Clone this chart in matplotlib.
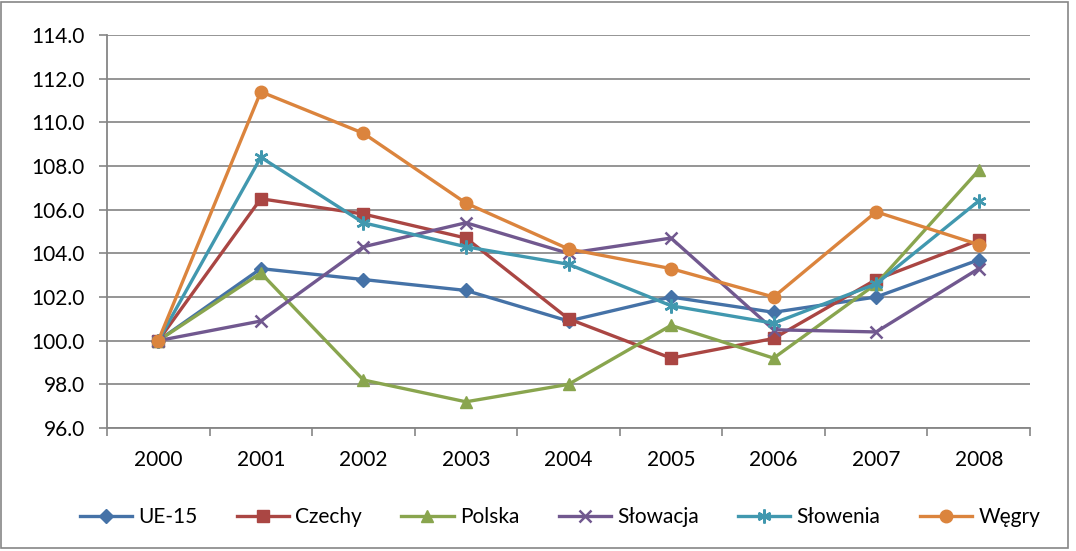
import matplotlib
matplotlib.use("Agg")
import matplotlib.pyplot as plt
from matplotlib.patches import Rectangle

years = ["2000", "2001", "2002", "2003", "2004", "2005", "2006", "2007", "2008"]
ue15 = [100.0, 103.3, 102.8, 102.3, 100.9, 102.0, 101.3, 102.0, 103.7]
czechy = [100.0, 106.5, 105.8, 104.7, 101.0, 99.2, 100.1, 102.8, 104.6]
polska = [100.0, 103.1, 98.2, 97.2, 98.0, 100.7, 99.2, 102.6, 107.8]
slowacja = [100.0, 100.9, 104.3, 105.4, 104.0, 104.7, 100.5, 100.4, 103.3]
slowenia = [100.0, 108.4, 105.4, 104.3, 103.5, 101.6, 100.8, 102.6, 106.4]
wegry = [100.0, 111.4, 109.5, 106.3, 104.2, 103.3, 102.0, 105.9, 104.4]

series = [
    ("UE-15", ue15, "#4572A7", "D", 7),
    ("Czechy", czechy, "#AA4643", "s", 8),
    ("Polska", polska, "#89A54E", "^", 9),
    ("Słowacja", slowacja, "#71588F", "x", 9),
    ("Słowenia", slowenia, "#4198AF", (6, 2, 0), 10),
    ("Węgry", wegry, "#DB843D", "o", 9),
]

plt.rcParams["font.family"] = ["Lato", "DejaVu Sans"]

fig = plt.figure(figsize=(10.76, 5.51), dpi=100)
ax = fig.add_axes([107 / 1076, 1 - 428 / 551, (1030 - 107) / 1076, (428 - 35) / 551])

x = list(range(len(years)))
for name, vals, color, marker, ms in series:
    mew = 1.8 if marker in ("x",) or isinstance(marker, tuple) else 1.0
    ax.plot(x, vals, color=color, lw=2.4, marker=marker, markersize=ms,
            markeredgewidth=mew, markerfacecolor=color, markeredgecolor=color,
            label=name, zorder=3)

ax.set_xlim(-0.5, len(years) - 0.5)
ax.set_ylim(96, 114)
ax.set_yticks([96 + 2 * i for i in range(10)])
ax.set_yticklabels([f"{96 + 2 * i:.1f}" for i in range(10)])
ax.set_xticks(x)
ax.set_xticklabels(years)
ax.set_xticks([i - 0.5 for i in range(len(years) + 1)], minor=True)
ax.tick_params(axis="x", which="major", length=0, pad=16, labelsize=15)
ax.tick_params(axis="x", which="minor", length=6, width=1.2, color="#868686")
ax.tick_params(axis="y", length=6, width=1.2, color="#868686", labelsize=15, pad=10)

ax.grid(axis="y", color="#8c8c8c", lw=1.3, zorder=0)
for side in ("top", "right"):
    ax.spines[side].set_visible(False)
for side in ("left", "bottom"):
    ax.spines[side].set_color("#868686")
    ax.spines[side].set_linewidth(1.3)

leg = fig.legend(loc="center", bbox_to_anchor=(560 / 1076, 1 - 517 / 551), ncol=6,
                 frameon=False, fontsize=15, handlelength=2.5, columnspacing=1.9,
                 handletextpad=0.3)

fig.patches.append(Rectangle((0.5 / 1076, 3 / 551), 1067 / 1076, 546 / 551,
                             transform=fig.transFigure, fill=False,
                             edgecolor="#868686", lw=1.2))

fig.savefig("out.png", dpi=100)
